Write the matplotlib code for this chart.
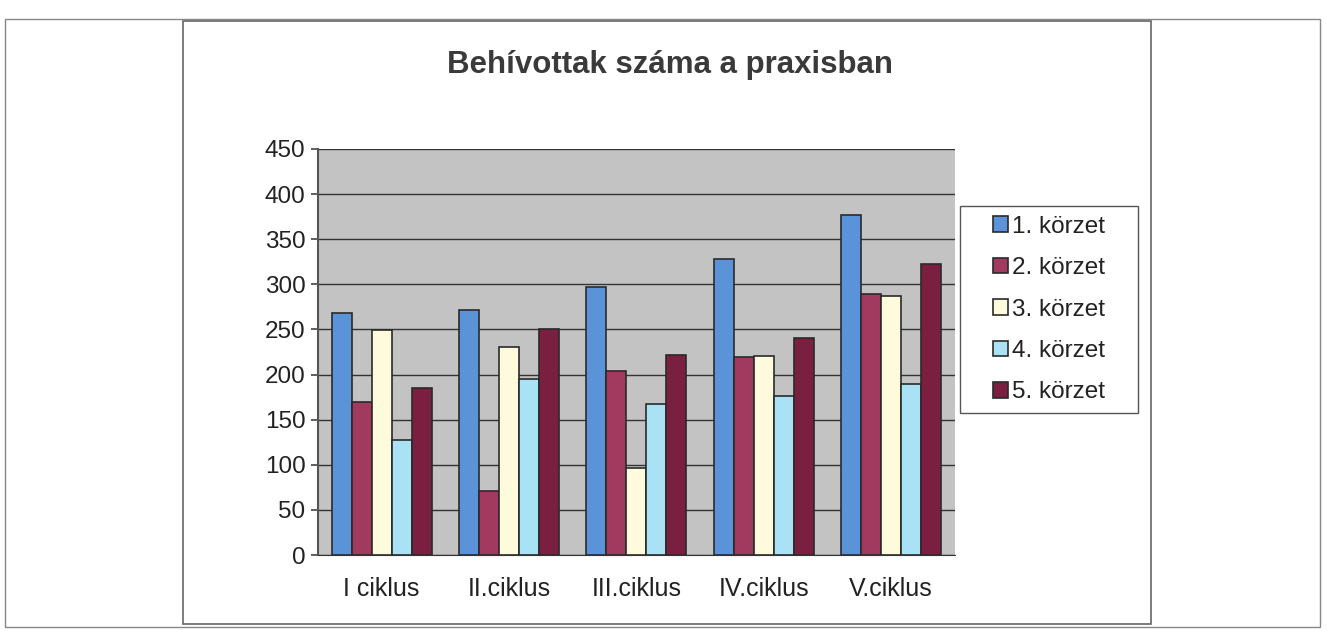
import numpy as np
import matplotlib.pyplot as plt
from matplotlib.patches import Rectangle

plt.rcParams['font.family'] = ['Liberation Sans', 'DejaVu Sans']

categories = ["I ciklus", "II.ciklus", "III.ciklus", "IV.ciklus", "V.ciklus"]
series_names = ["1. körzet", "2. körzet", "3. körzet", "4. körzet", "5. körzet"]
korzet1 = [268, 271, 297, 328, 377]
korzet2 = [170, 71, 204, 220, 289]
korzet3 = [249, 230, 97, 221, 287]
korzet4 = [128, 195, 167, 176, 190]
korzet5 = [185, 251, 222, 241, 322]
colors = ["#5b93d9", "#a23a60", "#fdfbdc", "#a9e2f5", "#7b1f40"]
yticks = [0, 50, 100, 150, 200, 250, 300, 350, 400, 450]

fig = plt.figure(figsize=(13.27, 6.31), dpi=100)
ax = fig.add_axes([0.2396, 0.1204, 0.480, 0.6435])
ax.set_facecolor("#c3c3c3")

x = np.arange(len(categories))
w = 0.157
all_series = [korzet1, korzet2, korzet3, korzet4, korzet5]
for i, (vals, name, c) in enumerate(zip(all_series, series_names, colors)):
    ax.bar(x + (i - 2) * w, vals, width=w, color=c, edgecolor="#2a2a2a",
           linewidth=1.2, label=name, zorder=3)

ax.set_xlim(-0.5, 4.5)
ax.set_ylim(0, 450)
ax.set_yticks(yticks)
ax.yaxis.grid(True, color="#333333", linewidth=1.0, zorder=0)
ax.set_axisbelow(True)
ax.set_xticks(x)
ax.set_xticklabels(categories, fontsize=18, color="#222222")
ax.tick_params(axis="x", length=0, pad=16)
ax.tick_params(axis="y", labelsize=17.5, labelcolor="#222222", length=5,
               width=1.2, color="#444444", pad=4)
for s in ["top", "right"]:
    ax.spines[s].set_visible(False)
ax.spines["bottom"].set_color("#333333")
ax.spines["left"].set_color("#555555")
ax.spines["left"].set_linewidth(1.5)

fig.text(0.505, 0.897, "Behívottak száma a praxisban", fontsize=22.5,
         fontweight="bold", color="#3a3a3a", ha="center", va="center")

# legend: frameless, with a separately drawn box (wider side padding)
leg = fig.legend(loc="center left", bbox_to_anchor=(0.7483, 0.5095), fontsize=17.5,
                 frameon=False, handlelength=0.6, handleheight=0.6,
                 handletextpad=0.2, labelspacing=0.8, borderpad=0, borderaxespad=0)
for t in leg.get_texts():
    t.set_color("#222222")
fig.add_artist(Rectangle((0.7234, 0.3455), 0.1341, 0.328, transform=fig.transFigure,
                         fill=False, edgecolor="#555555", linewidth=1.0))

# outer cell frame and chart area frame
fig.add_artist(Rectangle((0.0038, 0.0063), 0.9909, 0.9636, transform=fig.transFigure,
                         fill=False, edgecolor="#888888", linewidth=1.0))
fig.add_artist(Rectangle((0.1379, 0.0111), 0.7295, 0.9556, transform=fig.transFigure,
                         fill=False, edgecolor="#666666", linewidth=1.2))

fig.savefig("out.png", dpi=100)
